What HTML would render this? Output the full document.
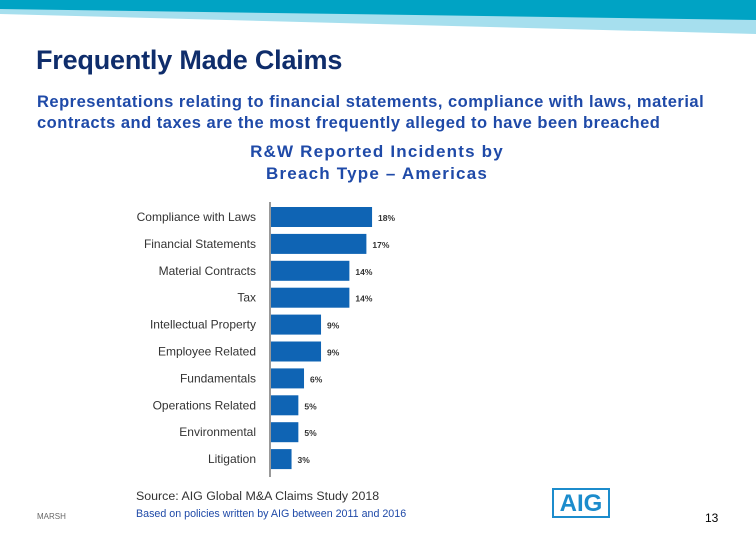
<!DOCTYPE html>
<html><head><meta charset="utf-8"><style>
body{margin:0;width:756px;height:540px;background:#fff;overflow:hidden;position:relative;font-family:"Liberation Sans",sans-serif}
.t{position:absolute;margin:0}
</style></head><body>
<svg width="756" height="40" style="position:absolute;left:0;top:0">
<polygon points="0,0 756,0 756,34 0,14" fill="#a6dfee"/>
<polygon points="0,0 756,0 756,20 0,9" fill="#00a3c4"/>
</svg>
<h1 class="t" style="left:36px;top:45px;font-size:27px;font-weight:bold;color:#0f2d6b;letter-spacing:-0.2px">Frequently Made Claims</h1>
<p class="t" style="left:37px;top:92px;font-size:16.5px;line-height:21px;color:#1f4aa8;font-weight:bold;letter-spacing:0.5px;white-space:nowrap">Representations relating to financial statements, compliance with laws, material<br>contracts and taxes are the most frequently alleged to have been breached</p>
<div class="t" style="left:220px;top:141px;width:314px;text-align:center;font-size:17px;line-height:22px;font-weight:bold;color:#1f4aa8;letter-spacing:1.2px">R&amp;W Reported Incidents by<br>Breach Type – Americas</div>
<svg id="c" width="756" height="540" style="position:absolute;left:0;top:0"></svg>
<div class="t" style="left:136px;top:489px;font-size:12.4px;color:#333">Source: AIG Global M&amp;A Claims Study 2018</div>
<div class="t" style="left:136px;top:508px;font-size:10.7px;color:#1f4aa8">Based on policies written by AIG between 2011 and 2016</div>
<div class="t" style="left:37px;top:512px;font-size:8px;color:#666">MARSH</div>
<div class="t" style="left:552px;top:488px;width:58px;height:30px;border:2px solid #1c8ccc;box-sizing:border-box;color:#1c8ccc;font-size:24px;font-weight:bold;text-align:center;line-height:27px">AIG</div>
<div class="t" style="left:705px;top:511px;font-size:12px;color:#000">13</div>
<script>
const categories=["Compliance with Laws","Financial Statements","Material Contracts","Tax","Intellectual Property","Employee Related","Fundamentals","Operations Related","Environmental","Litigation"];
const values=[18,17,14,14,9,9,6,5,5,3.8];
const labels=["18%","17%","14%","14%","9%","9%","6%","5%","5%","3%"];
const svg=document.getElementById('c');const NS='http://www.w3.org/2000/svg';
const x0=270,ppu=5.67,y0=217,pitch=26.9,bh=20;
const xs=v=>x0+v*ppu, ys=i=>y0+i*pitch;
function mk(t,a){const e=document.createElementNS(NS,t);for(const k in a)e.setAttribute(k,a[k]);svg.appendChild(e);return e;}
const ax=mk('line',{x1:x0,x2:x0,y1:202,y2:477,stroke:'#333','stroke-width':1});


categories.forEach((c,i)=>{
 const r=mk('rect',{x:x0+1,y:ys(i)-bh/2,width:xs(values[i])-x0-1,height:bh,fill:'#0f64b4'});
 
 
 const t=mk('text',{x:256,y:ys(i)+4,'text-anchor':'end','font-size':12,fill:'#333','font-family':'Liberation Sans,sans-serif'});t.textContent=c;
 
 
 const v=mk('text',{x:xs(values[i])+6,y:ys(i)+4,'font-size':8.5,'font-weight':'bold',fill:'#333','font-family':'Liberation Sans,sans-serif'});v.textContent=labels[i];
 
 
});
</script>
</body></html>
